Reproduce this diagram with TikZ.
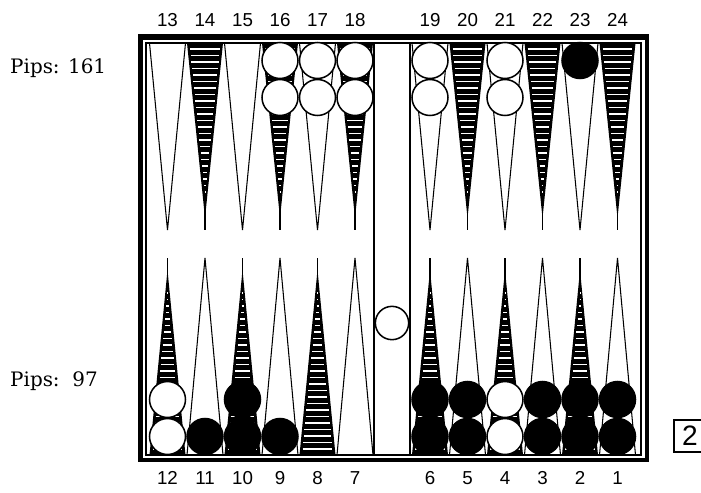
\documentclass[tikz,border=0pt]{standalone}
\usepackage{fontspec}
\setmainfont{DejaVu Serif}
\newfontfamily\numfont{Liberation Sans}

\tikzset{
  pointline/.style={line width=0.9pt},
  stripe/.style={draw=white, line width=1.1pt},
  whitechk/.style={circle, draw=black, fill=white, line width=1.3pt, minimum size=1.08cm, inner sep=0pt},
  blackchk/.style={circle, draw=black, fill=black, line width=1.3pt, minimum size=1.08cm, inner sep=0pt},
  ptnum/.style={font=\numfont\fontsize{16}{18}\selectfont, inner sep=0pt},
  pips/.style={font=\fontsize{17}{19}\selectfont, anchor=west, inner sep=0pt}
}

\begin{document}
\begin{tikzpicture}[x=0.03cm, y=-0.03cm]
  \useasboundingbox (0,0) rectangle (701,492);

  % top points (13..24)
  \foreach \x [count=\i] in {167.5,205,242.5,280,317.5,355,430,467.5,505,542.5,580,617.5} {
    \ifodd\i
      \draw[pointline] (\x-18,43) -- (\x,230) -- (\x+18,43);
    \else
      \fill (\x-18,43) -- (\x,218) -- (\x+18,43) -- cycle;
      \draw[pointline] (\x,210) -- (\x,230);
      \foreach \y in {49,55.5,...,198} {
        \pgfmathsetmacro\hw{18*(218-\y)/175-2.5}
        \draw[stripe] (\x-\hw,\y) -- (\x+\hw,\y);
      }
    \fi
  }

  % bottom points (12..1)
  \foreach \x [count=\i] in {167.5,205,242.5,280,317.5,355,430,467.5,505,542.5,580,617.5} {
    \ifodd\i
      \fill (\x-18,455) -- (\x,270) -- (\x+18,455) -- cycle;
      \draw[pointline] (\x,258) -- (\x,278);
      \foreach \y in {449,442.5,...,290} {
        \pgfmathsetmacro\hw{18*(\y-270)/185-2.5}
        \draw[stripe] (\x-\hw,\y) -- (\x+\hw,\y);
      }
    \else
      \draw[pointline] (\x-18,455) -- (\x,258) -- (\x+18,455);
    \fi
  }

  % board frame
  \draw[line width=0.9pt] (146,43) rectangle (641,455);
  \fill (138,34) rectangle (649,40);
  \fill (138,34) rectangle (143,462);
  \fill (138,458) rectangle (649,462);
  \fill (645,34) rectangle (649,462);

  % bar
  \draw[line width=0.9pt] (374,43) -- (374,455);
  \draw[line width=0.9pt] (410,43) -- (410,455);
  \node[whitechk, minimum size=1.0cm] (barw) at (392,323) {};

  % checkers on top points
  \foreach \x/\n in {280/16,317.5/17,355/18,430/19,505/21} {
    \node[whitechk] (w\n a) at (\x,60.5) {};
    \node[whitechk] (w\n b) at (\x,97.5) {};
  }
  \node[blackchk] (b23a) at (580,60.5) {};

  % checkers on bottom points
  \foreach \x/\n in {167.5/12,505/4} {
    \node[whitechk] (w\n a) at (\x,436.5) {};
    \node[whitechk] (w\n b) at (\x,399.5) {};
  }
  \foreach \x/\n in {205/11,280/9} {
    \node[blackchk] (b\n a) at (\x,436.5) {};
  }
  \foreach \x/\n in {242.5/10,430/6,467.5/5,542.5/3,580/2,617.5/1} {
    \node[blackchk] (b\n a) at (\x,436.5) {};
    \node[blackchk] (b\n b) at (\x,399.5) {};
  }

  % point numbers
  \foreach \x/\n in {167.5/13,205/14,242.5/15,280/16,317.5/17,355/18,430/19,467.5/20,505/21,542.5/22,580/23,617.5/24}
    \node[ptnum] (top\n) at (\x,20) {\n};
  \foreach \x/\n in {167.5/12,205/11,242.5/10,280/9,317.5/8,355/7,430/6,467.5/5,505/4,542.5/3,580/2,617.5/1}
    \node[ptnum] (bot\n) at (\x,478) {\n};

  % pip counts
  \node[pips] (pipstop) at (10,68) {Pips: 161};
  \node[pips] (pipsbot) at (10,381) {Pips:\ \ 97};

  % doubling cube
  \draw[line width=0.9pt] (674,420) rectangle (706,452);
  \node[font=\numfont\fontsize{24}{26}\selectfont, inner sep=0pt] (cube) at (690,436) {2};

\end{tikzpicture}
\end{document}
